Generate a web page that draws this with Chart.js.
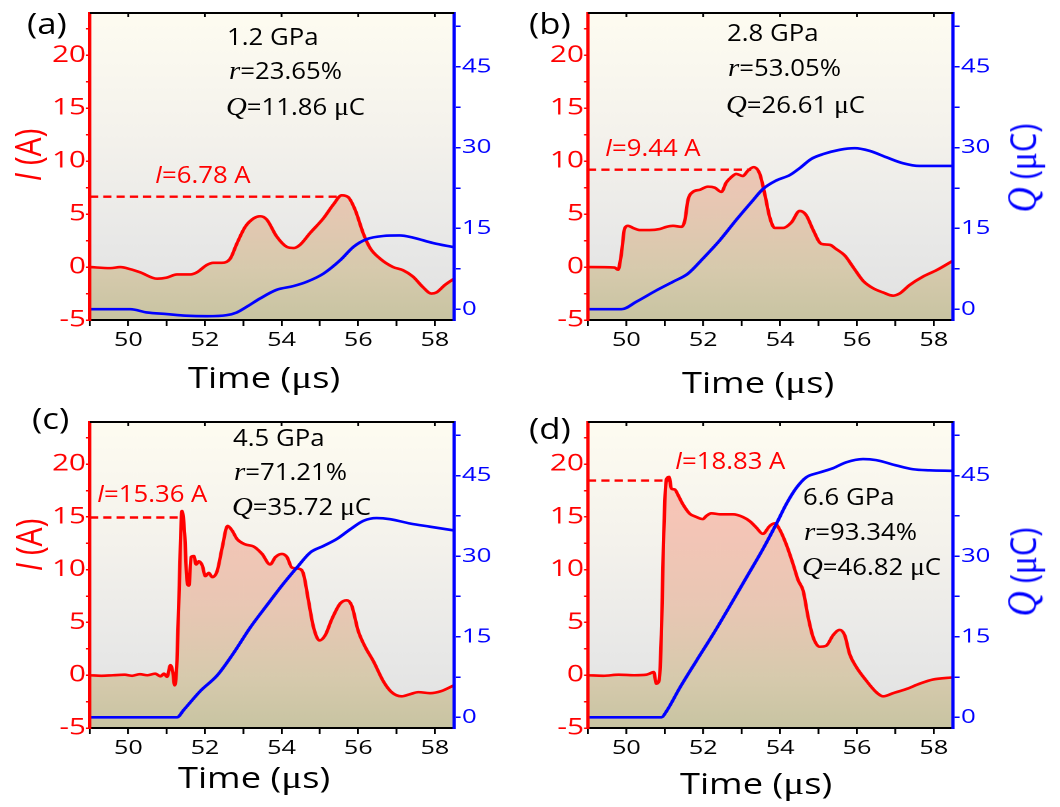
<!DOCTYPE html>
<html>
<head>
<meta charset="utf-8">
<script src="https://cdn.jsdelivr.net/npm/chart.js@4.4.1/dist/chart.umd.min.js"></script>
<style>
  html, body { margin:0; padding:0; background:#fff; }
  body { width:1060px; height:807px; position:relative; overflow:hidden; font-family:'Open Sans', sans-serif; }
  #wrap { position:absolute; left:0; top:0; height:807px; transform-origin:0 0; }
  .pc { position:absolute; }
  .t { position:absolute; white-space:nowrap; line-height:1; transform-origin:0 50%; font-family:'Open Sans', sans-serif; }
  .ann { font-size:23px; color:#000; transform:translateY(-50%) scaleX(1.12); }
  .pk { font-size:23px; color:#f00; transform:translateY(-50%) scaleX(1.12); }
  .lab { font-size:29px; color:#000; transform:translateY(-50%) scaleX(1.2); }
  .xt { font-size:29px; color:#000; transform:translateY(-50%) scaleX(1.25); }
  .yt { font-size:30px; color:#f00; transform-origin:50% 50%; transform:translate(-50%,-50%) scaleX(1.2) rotate(-90deg); }
  .qt { font-size:31px; color:#00f; transform-origin:50% 50%; transform:translate(-50%,-50%) scaleX(1.2) rotate(-90deg); }
  .s { font-family:'Liberation Serif', serif; font-style:italic; font-size:1.12em; }
  .si { font-style:italic; }
  .mu { font-family:'Liberation Serif', serif; font-size:1.08em; }
</style>
</head>
<body>
<div id="wrap"></div>

<!-- panel labels -->
<div class="t lab" style="left:27px; top:22px;">(a)</div>
<div class="t lab" style="left:529px; top:22px;">(b)</div>
<div class="t lab" style="left:32px; top:417px;">(c)</div>
<div class="t lab" style="left:529px; top:427px;">(d)</div>

<!-- annotations (a) -->
<div class="t ann" style="left:227px; top:36px;">1.2 GPa</div>
<div class="t ann" style="left:229px; top:71px;"><span class="s">r</span>=23.65%</div>
<div class="t ann" style="left:226px; top:107px;"><span class="s">Q</span>=11.86 <span class="mu">μ</span>C</div>
<div class="t pk" style="left:155px; top:174px;"><span class="si">I</span>=6.78 A</div>
<!-- annotations (b) -->
<div class="t ann" style="left:727px; top:32px;">2.8 GPa</div>
<div class="t ann" style="left:728px; top:68px;"><span class="s">r</span>=53.05%</div>
<div class="t ann" style="left:726px; top:105px;"><span class="s">Q</span>=26.61 <span class="mu">μ</span>C</div>
<div class="t pk" style="left:605px; top:147px;"><span class="si">I</span>=9.44 A</div>
<!-- annotations (c) -->
<div class="t ann" style="left:233px; top:437px;">4.5 GPa</div>
<div class="t ann" style="left:234px; top:472px;"><span class="s">r</span>=71.21%</div>
<div class="t ann" style="left:232px; top:507px;"><span class="s">Q</span>=35.72 <span class="mu">μ</span>C</div>
<div class="t pk" style="left:97px; top:493px;"><span class="si">I</span>=15.36 A</div>
<!-- annotations (d) -->
<div class="t pk" style="left:675px; top:460px;"><span class="si">I</span>=18.83 A</div>
<div class="t ann" style="left:803px; top:496px;">6.6 GPa</div>
<div class="t ann" style="left:804px; top:532px;"><span class="s">r</span>=93.34%</div>
<div class="t ann" style="left:802px; top:567px;"><span class="s">Q</span>=46.82 <span class="mu">μ</span>C</div>

<!-- axis titles -->
<div class="t xt" style="left:188px; top:378px;">Time (<span class="mu">μ</span>s)</div>
<div class="t xt" style="left:682px; top:383px;">Time (<span class="mu">μ</span>s)</div>
<div class="t xt" style="left:178px; top:778px;">Time (<span class="mu">μ</span>s)</div>
<div class="t xt" style="left:680px; top:784px;">Time (<span class="mu">μ</span>s)</div>
<div class="t yt" style="left:28px; top:155px;"><span class="si">I</span> (A)</div>
<div class="t yt" style="left:29px; top:545px;"><span class="si">I</span> (A)</div>
<div class="t qt" style="left:1023px; top:168px;"><span class="s">Q</span> (<span class="mu">μ</span>C)</div>
<div class="t qt" style="left:1023px; top:572px;"><span class="s">Q</span> (<span class="mu">μ</span>C)</div>

<script>
// ---------------- DATA ----------------
const X_TICKS = [49, 50, 51, 52, 53, 54, 55, 56, 57, 58];
const X_LABELS = [50, 52, 54, 56, 58];
const I_TICKS = [-5, -2.5, 0, 2.5, 5, 7.5, 10, 12.5, 15, 17.5, 20, 22.5];
const I_LABELS = [-5, 0, 5, 10, 15, 20];
const Q_TICKS = [0, 7.5, 15, 22.5, 30, 37.5, 45, 52.5];
const Q_LABELS = [0, 15, 30, 45];

// (a) 1.2 GPa
const A_I_T = [49.0,49.53,49.79,50.05,50.31,50.75,51.0,51.27,51.62,51.79,52.05,52.22,52.44,52.66,52.83,53.05,53.27,53.44,53.61,53.87,54.14,54.31,54.48,54.74,55.09,55.35,55.57,55.74,55.92,56.13,56.31,56.57,56.91,57.17,57.43,57.69,57.91,58.04,58.26,58.5];
const A_I   = [0,-0.1,0,-0.2,-0.5,-1.1,-1.0,-0.7,-0.7,-0.5,0.2,0.4,0.4,0.8,2.2,3.8,4.6,4.8,4.5,2.9,1.9,1.8,2.1,3.2,4.6,5.9,6.78,6.6,5.4,3.2,1.8,0.8,0,-0.3,-0.9,-1.9,-2.5,-2.4,-1.7,-1.1];
const A_Q_T = [49.0,50.05,50.48,51.0,51.5,52.05,52.57,52.83,53.1,53.44,53.87,54.31,54.66,55.09,55.53,55.88,56.22,56.65,57.08,57.43,57.95,58.5];
const A_Q   = [0,0,-0.6,-0.9,-1.2,-1.3,-1.1,-0.6,0.5,2.0,3.6,4.3,5.1,6.6,9.1,11.6,13.0,13.6,13.7,13.3,12.3,11.5];

// (b) 2.8 GPa
const B_I_T = [49.0,49.69,49.78,49.87,49.95,50.04,50.17,50.34,50.6,50.87,51.04,51.21,51.43,51.52,51.6,51.73,51.91,52.12,52.3,52.47,52.6,52.73,52.86,53.03,53.16,53.31,53.47,53.6,53.73,53.86,54.08,54.29,54.51,54.68,54.86,55.07,55.29,55.46,55.68,55.9,56.16,56.42,56.68,56.94,57.11,57.37,57.72,58.07,58.5];
const B_I   = [0,-0.05,-0.25,1.3,3.6,3.9,3.7,3.5,3.5,3.6,3.8,3.9,3.8,4.4,6.3,7.1,7.3,7.6,7.5,7.1,8.0,8.5,8.8,8.6,9.1,9.44,8.8,6.9,4.7,3.7,3.7,4.2,5.3,4.9,3.5,2.2,2.1,1.7,1.1,0,-1.3,-2.0,-2.4,-2.7,-2.5,-1.7,-0.9,-0.3,0.6];
const B_Q_T = [49.0,49.87,50.26,50.78,51.21,51.6,51.99,52.43,52.86,53.29,53.55,53.9,54.25,54.51,54.81,55.12,55.55,55.94,56.33,56.77,57.2,57.63,58.5];
const B_Q   = [0,0,1.4,3.5,5.1,6.6,9.4,12.8,16.6,20.2,22.3,23.9,24.9,26.2,27.9,28.8,29.6,29.9,29.4,28.2,27.1,26.6,26.6];

// (c) 4.5 GPa
const C_I_T = [49.0,49.3,49.6,49.9,50.1,50.3,50.5,50.7,50.84,50.93,51.01,51.1,51.16,51.21,51.27,51.33,51.4,51.47,51.53,51.58,51.64,51.71,51.77,51.84,51.93,52.01,52.1,52.19,52.32,52.45,52.59,52.71,52.84,53.05,53.27,53.49,53.7,53.84,54.01,54.14,54.27,54.44,54.57,54.7,54.83,54.99,55.14,55.31,55.53,55.7,55.83,56.0,56.18,56.4,56.66,56.87,57.13,57.35,57.57,57.87,58.17,58.5];
const C_I   = [0,-0.05,0,0.05,-0.05,0.1,0,0.15,-0.1,0.15,-0.15,0.95,0.3,-0.95,1.4,8.6,15.56,13.4,9.0,8.5,11.2,11.3,10.5,10.8,10.4,9.4,9.7,9.3,9.9,12.1,14.15,13.7,12.9,12.4,12.2,11.5,10.5,11.2,11.5,11.2,10.2,10.1,9.6,7.1,4.6,3.3,3.8,5.3,6.8,7.1,6.6,4.2,2.7,1.3,-0.6,-1.6,-2.0,-1.8,-1.6,-1.7,-1.5,-0.95];
const C_Q_T = [49.0,51.27,51.45,51.88,52.32,52.75,53.18,53.62,54.05,54.4,54.75,55.09,55.44,55.79,56.14,56.48,56.83,57.35,57.87,58.5];
const C_Q   = [0,0,1.4,4.9,7.8,12.0,16.7,20.9,24.9,27.9,30.7,31.9,33.2,35.0,36.6,37.1,36.9,36.1,35.5,34.8];

// (d) 6.6 GPa
const D_I_T = [49.0,49.4,49.8,50.2,50.52,50.6,50.71,50.78,50.85,50.91,50.97,51.04,51.11,51.17,51.26,51.34,51.47,51.65,51.82,51.99,52.08,52.21,52.43,52.77,53.03,53.21,53.38,53.55,53.73,53.86,53.99,54.16,54.34,54.47,54.6,54.73,54.86,55.03,55.2,55.38,55.55,55.68,55.81,55.98,56.24,56.5,56.68,56.94,57.29,57.63,57.98,58.5];
const D_I   = [0,-0.05,0.05,0,0.05,0.15,0.3,-0.8,-0.5,3.9,13.4,18.55,18.8,17.7,17.6,17.1,16.2,15.3,15.0,14.8,15.1,15.35,15.25,15.25,15.0,14.6,14.0,13.4,14.15,14.4,13.8,12.4,10.5,9.0,8.0,5.5,3.6,2.7,2.8,3.8,4.3,3.8,2.0,0.8,-0.5,-1.6,-2.0,-1.7,-1.3,-0.8,-0.4,-0.2];
const D_Q_T = [49.0,50.91,51.04,51.39,51.82,52.25,52.69,53.12,53.55,53.9,54.16,54.42,54.68,55.03,55.38,55.72,56.16,56.5,57.03,57.46,57.89,58.5];
const D_Q   = [0,0,1.1,5.5,10.5,15.4,20.7,26.0,31.3,36.0,39.7,42.7,44.7,45.6,46.4,47.5,48.1,47.9,46.9,46.2,46.0,45.9];

// peak marker lines (value of dashed line, time where it ends)
const PEAK_I = [6.65, 9.2, 14.95, 18.45];
const PEAK_T = [55.57, 53.25, 51.4, 51.1];

// ---------------- LAYOUT ----------------
const SX = 1.325; // horizontal stretch of the original figure
const PANELS = [
  { x0:0,   y0:0,   w:530, h:400, left:90,  right:454, top:13,  bottom:320 },
  { x0:530, y0:0,   w:530, h:400, left:588, right:953, top:13,  bottom:320 },
  { x0:0,   y0:400, w:530, h:407, left:90,  right:454, top:422, bottom:728 },
  { x0:530, y0:400, w:530, h:407, left:588, right:953, top:422, bottom:728 }
];
const SERIES = [
  { ti:A_I_T, i:A_I, tq:A_Q_T, q:A_Q },
  { ti:B_I_T, i:B_I, tq:B_Q_T, q:B_Q },
  { ti:C_I_T, i:C_I, tq:C_Q_T, q:C_Q },
  { ti:D_I_T, i:D_I, tq:D_Q_T, q:D_Q }
];

const zip = (xs, ys) => xs.map((x, k) => ({ x, y: ys[k] }));

const bgPlugin = {
  id: 'bgPanel',
  beforeDraw(chart) {
    const { ctx, chartArea: a } = chart;
    if (!a) return;
    const g = ctx.createLinearGradient(0, a.top, 0, a.bottom);
    g.addColorStop(0, '#fefcf1');
    g.addColorStop(0.4, '#f4f2ec');
    g.addColorStop(0.75, '#e8e8e7');
    g.addColorStop(1, '#e1e1e1');
    ctx.save();
    ctx.fillStyle = g;
    ctx.fillRect(a.left, a.top, a.right - a.left, a.bottom - a.top);
    ctx.restore();
  },
  afterDraw(chart) {
    const { ctx, chartArea: a, scales } = chart;
    ctx.save();
    ctx.strokeStyle = '#000';
    ctx.lineWidth = 2;
    ctx.beginPath(); ctx.moveTo(a.left, a.top); ctx.lineTo(a.right, a.top); ctx.stroke();
    ctx.lineWidth = 1.4;
    X_LABELS.forEach(v => {
      const px = scales.x.getPixelForValue(v);
      ctx.beginPath(); ctx.moveTo(px, a.top); ctx.lineTo(px, a.top + 4); ctx.stroke();
    });
    ctx.restore();
  }
};

function fillGrad(context) {
  const chart = context.chart;
  const a = chart.chartArea;
  if (!a) return 'rgba(0,0,0,0)';
  const g = chart.ctx.createLinearGradient(0, a.top, 0, a.bottom);
  g.addColorStop(0, '#fbc2b2');
  g.addColorStop(0.3, '#f6c5b7');
  g.addColorStop(0.6, '#e9c7b4');
  g.addColorStop(0.83, '#d7caad');
  g.addColorStop(1, '#c8c4a2');
  return g;
}

const wrap = document.getElementById('wrap');
wrap.style.width = (1060 / SX) + 'px';
wrap.style.transform = 'scaleX(' + SX + ')';

PANELS.forEach((p, k) => {
  const s = SERIES[k];
  const box = document.createElement('div');
  box.className = 'pc';
  box.style.left = (p.x0 / SX) + 'px';
  box.style.top = p.y0 + 'px';
  box.style.width = (p.w / SX) + 'px';
  box.style.height = p.h + 'px';
  const cv = document.createElement('canvas');
  box.appendChild(cv);
  wrap.appendChild(box);

  const lw = (p.left - p.x0) / SX;
  const rw = (p.x0 + p.w - p.right) / SX;
  const topPad = p.top - p.y0;
  const xh = p.y0 + p.h - p.bottom;

  new Chart(cv, {
    type: 'line',
    data: {
      datasets: [
        { label: 'Q', data: zip(s.tq, s.q), yAxisID: 'yQ', order: 0,
          borderColor: '#0000ff', borderWidth: 2.6, pointRadius: 0,
          cubicInterpolationMode: 'monotone', fill: false },
        { label: 'peak', data: [{ x: 49, y: PEAK_I[k] }, { x: PEAK_T[k], y: PEAK_I[k] }], yAxisID: 'yI', order: 1,
          borderColor: '#ff0000', borderWidth: 2.4, borderDash: [6.2, 3.8], pointRadius: 0, fill: false },
        { label: 'I', data: zip(s.ti, s.i), yAxisID: 'yI', order: 2,
          borderColor: '#ff0000', borderWidth: 2.6, pointRadius: 0,
          cubicInterpolationMode: 'monotone', fill: 'start', backgroundColor: fillGrad }
      ]
    },
    options: {
      responsive: true,
      maintainAspectRatio: false,
      animation: false,
      devicePixelRatio: 2,
      layout: { padding: { top: topPad, left: 0, right: 0, bottom: 0 } },
      plugins: { legend: { display: false }, tooltip: { enabled: false } },
      scales: {
        x: {
          type: 'linear', position: 'bottom', min: 49, max: 58.5,
          afterBuildTicks: sc => { sc.ticks = X_TICKS.map(v => ({ value: v })); },
          afterFit: sc => { sc.height = xh; sc.paddingLeft = 0; sc.paddingRight = 0; },
          ticks: { autoSkip: false, maxRotation: 0, color: '#000', padding: 3,
                   font: { family: 'Open Sans', size: 19 },
                   callback: v => X_LABELS.includes(v) ? String(v) : '' },
          grid: { drawOnChartArea: false, color: '#000', lineWidth: 1.4, tickLength: 6 },
          border: { color: '#000', width: 2, z: 1 }
        },
        yI: {
          type: 'linear', position: 'left', min: -5, max: 24,
          afterBuildTicks: sc => { sc.ticks = I_TICKS.map(v => ({ value: v })); },
          afterFit: sc => { sc.width = lw; sc.paddingTop = 0; sc.paddingBottom = 0; },
          ticks: { autoSkip: false, color: '#ff0000', padding: 0,
                   font: { family: 'Open Sans', size: 22.5 },
                   callback: v => I_LABELS.includes(v) ? String(v) : '' },
          grid: { drawOnChartArea: false, color: '#ff0000', lineWidth: 1.5, tickLength: 3 },
          border: { color: '#ff0000', width: 2.4, z: 1 }
        },
        yQ: {
          type: 'linear', position: 'right', min: -2, max: 55,
          afterBuildTicks: sc => { sc.ticks = Q_TICKS.map(v => ({ value: v })); },
          afterFit: sc => { sc.width = rw; sc.paddingTop = 0; sc.paddingBottom = 0; },
          ticks: { autoSkip: false, color: '#0000ff', padding: 1,
                   font: { family: 'Open Sans', size: 19.5 },
                   callback: v => Q_LABELS.includes(v) ? String(v) : '' },
          grid: { drawOnChartArea: false, color: '#0000ff', lineWidth: 1.5, tickLength: 5 },
          border: { color: '#0000ff', width: 2.4, z: 1 }
        }
      }
    },
    plugins: [bgPlugin]
  });
});
</script>
</body>
</html>
